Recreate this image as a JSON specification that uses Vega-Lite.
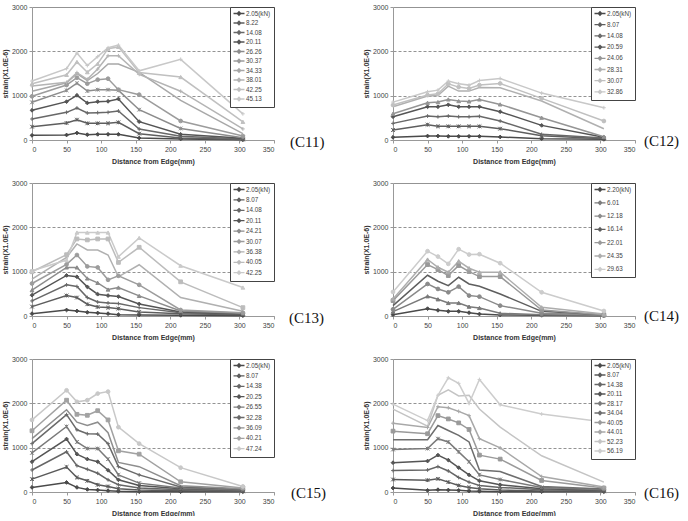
{
  "$schema": "https://vega.github.io/schema/vega-lite/v6.json",
  "background": "white",
  "padding": {"left": 1, "top": 3, "right": 0, "bottom": 0},
  "datasets": {
    "strain": [
      {"p": "C11", "load": "2.05(kN)", "x": [0,50,65,80,95,110,125,155,215,305], "y": [105,113,158,120,128,128,128,45,23,5]},
      {"p": "C11", "load": "8.22", "x": [0,50,65,80,95,110,125,155,215,305], "y": [300,383,458,376,376,376,398,143,45,10]},
      {"p": "C11", "load": "14.08", "x": [0,50,65,80,95,110,125,155,215,305], "y": [474,624,722,609,617,624,654,248,83,23]},
      {"p": "C11", "load": "20.11", "x": [0,50,65,80,95,110,125,155,215,305], "y": [669,865,1008,835,865,872,925,414,128,38]},
      {"p": "C11", "load": "26.26", "x": [0,50,65,80,95,110,125,155,215,305], "y": [850,1120,1280,1105,1135,1135,1120,684,260,53]},
      {"p": "C11", "load": "30.37", "x": [0,50,65,80,95,110,125,155,215,305], "y": [985,1240,1406,1271,1361,1383,1135,1023,429,90]},
      {"p": "C11", "load": "34.33", "x": [0,50,65,80,95,110,125,155,215,305], "y": [1098,1290,1496,1338,1500,1714,1714,1526,895,143]},
      {"p": "C11", "load": "38.01", "x": [0,50,65,80,95,110,125,155,215,305], "y": [1220,1300,1520,1370,1600,1900,1900,1480,1100,250]},
      {"p": "C11", "load": "42.25", "x": [0,50,65,80,95,110,125,155,215,305], "y": [1270,1470,1760,1530,1720,2060,2100,1520,1420,410]},
      {"p": "C11", "load": "45.13", "x": [0,50,65,80,95,110,125,155,215,305], "y": [1330,1610,1960,1680,1880,2080,2140,1560,1820,590]},

      {"p": "C12", "load": "2.05(kN)", "x": [0,50,65,80,95,110,125,155,215,305], "y": [60,90,90,83,83,83,83,68,30,15]},
      {"p": "C12", "load": "8.07", "x": [0,50,65,80,95,110,125,155,215,305], "y": [225,345,308,308,308,308,308,255,98,30]},
      {"p": "C12", "load": "14.08", "x": [0,50,65,80,95,110,125,155,215,305], "y": [375,540,525,540,525,525,533,428,128,45]},
      {"p": "C12", "load": "20.59", "x": [0,50,65,80,95,110,125,155,215,305], "y": [525,750,750,795,750,750,750,638,330,60]},
      {"p": "C12", "load": "24.06", "x": [0,50,65,80,95,110,125,155,215,305], "y": [593,840,855,915,878,870,915,803,503,75]},
      {"p": "C12", "load": "28.31", "x": [0,50,65,80,95,110,125,155,215,305], "y": [750,990,1005,1215,1103,1103,1185,1178,878,255]},
      {"p": "C12", "load": "30.07", "x": [0,50,65,80,95,110,125,155,215,305], "y": [788,1013,1043,1268,1193,1163,1238,1275,938,428]},
      {"p": "C12", "load": "32.86", "x": [0,50,65,80,95,110,125,155,215,305], "y": [855,1088,1125,1328,1268,1238,1343,1388,1058,728]},

      {"p": "C13", "load": "2.05(kN)", "x": [0,50,65,80,95,110,125,155,215,305], "y": [53,136,113,83,68,53,30,23,15,8]},
      {"p": "C13", "load": "8.07", "x": [0,50,65,80,95,110,125,155,215,305], "y": [212,461,416,265,204,189,166,91,53,30]},
      {"p": "C13", "load": "14.08", "x": [0,50,65,80,95,110,125,155,215,305], "y": [340,703,665,416,317,295,280,189,76,45]},
      {"p": "C13", "load": "20.11", "x": [0,50,65,80,95,110,125,155,215,305], "y": [469,915,884,658,491,461,438,272,91,53]},
      {"p": "C13", "load": "24.21", "x": [0,50,65,80,95,110,125,155,215,305], "y": [582,1096,1096,847,748,597,642,453,113,60]},
      {"p": "C13", "load": "30.07", "x": [0,50,65,80,95,110,125,155,215,305], "y": [733,1164,1376,1119,1096,816,907,703,136,76]},
      {"p": "C13", "load": "36.38", "x": [0,50,65,80,95,110,125,155,215,305], "y": [831,1323,1625,1489,1489,1376,884,1156,416,106]},
      {"p": "C13", "load": "40.05", "x": [0,50,65,80,95,110,125,155,215,305], "y": [998,1383,1738,1716,1738,1738,1209,1550,771,189]},
      {"p": "C13", "load": "42.25", "x": [0,50,65,80,95,110,125,155,215,305], "y": [1020,1262,1882,1882,1882,1882,1338,1761,1134,642]},

      {"p": "C14", "load": "2.20(kN)", "x": [0,50,65,80,95,110,125,155,215,305], "y": [30,166,128,105,105,75,45,23,15,8]},
      {"p": "C14", "load": "6.01", "x": [0,50,65,80,95,110,125,155,215,305], "y": [98,445,377,294,294,211,181,60,30,15]},
      {"p": "C14", "load": "12.18", "x": [0,50,65,80,95,110,125,155,215,305], "y": [151,723,610,535,663,460,437,234,60,23]},
      {"p": "C14", "load": "16.14", "x": [0,50,65,80,95,110,125,155,215,305], "y": [234,919,784,686,874,723,671,497,105,30]},
      {"p": "C14", "load": "22.01", "x": [0,50,65,80,95,110,125,155,215,305], "y": [347,1160,1047,912,1138,1002,889,889,136,30]},
      {"p": "C14", "load": "24.35", "x": [0,50,65,80,95,110,125,155,215,305], "y": [384,1274,1100,987,1236,1078,987,987,196,45]},
      {"p": "C14", "load": "29.63", "x": [0,50,65,80,95,110,125,155,215,305], "y": [543,1462,1341,1176,1507,1387,1394,1191,535,113]},

      {"p": "C15", "load": "2.05(kN)", "x": [0,50,65,80,95,110,125,155,215,305], "y": [104,215,104,59,45,30,15,7,7,7]},
      {"p": "C15", "load": "8.07", "x": [0,50,65,80,95,110,125,155,215,305], "y": [290,564,327,252,163,126,74,45,30,15]},
      {"p": "C15", "load": "14.38", "x": [0,50,65,80,95,110,125,155,215,305], "y": [497,906,594,512,423,275,163,89,52,30]},
      {"p": "C15", "load": "20.25", "x": [0,50,65,80,95,110,125,155,215,305], "y": [683,1195,854,742,683,490,275,148,74,37]},
      {"p": "C15", "load": "26.55", "x": [0,50,65,80,95,110,125,155,215,305], "y": [883,1477,1128,980,980,742,386,200,89,45]},
      {"p": "C15", "load": "32.28", "x": [0,50,65,80,95,110,125,155,215,305], "y": [1091,1745,1403,1314,1307,1091,572,386,111,59]},
      {"p": "C15", "load": "36.09", "x": [0,50,65,80,95,110,125,155,215,305], "y": [1203,1856,1574,1500,1574,1336,668,572,141,74]},
      {"p": "C15", "load": "40.21", "x": [0,50,65,80,95,110,125,155,215,305], "y": [1381,2071,1752,1730,1834,1626,928,854,230,89]},
      {"p": "C15", "load": "47.24", "x": [0,50,65,80,95,110,125,155,215,305], "y": [1626,2294,2034,2071,2220,2264,1462,1091,549,126]},

      {"p": "C16", "load": "2.05(kN)", "x": [0,50,65,80,95,110,125,155,215,305], "y": [89,37,52,45,37,22,15,7,7,7]},
      {"p": "C16", "load": "8.07", "x": [0,50,65,80,95,110,125,155,215,305], "y": [282,267,297,223,148,104,74,45,22,15]},
      {"p": "C16", "load": "14.38", "x": [0,50,65,80,95,110,125,155,215,305], "y": [483,497,572,475,327,223,148,104,52,30]},
      {"p": "C16", "load": "20.11", "x": [0,50,65,80,95,110,125,155,215,305], "y": [661,698,832,720,549,386,252,163,74,37]},
      {"p": "C16", "load": "28.17", "x": [0,50,65,80,95,110,125,155,215,305], "y": [958,980,1203,1128,906,683,386,282,104,52]},
      {"p": "C16", "load": "34.04", "x": [0,50,65,80,95,110,125,155,215,305], "y": [1180,1180,1500,1388,1277,1128,497,460,126,67]},
      {"p": "C16", "load": "40.05", "x": [0,50,65,80,95,110,125,155,215,305], "y": [1373,1314,1722,1648,1559,1410,832,742,260,89]},
      {"p": "C16", "load": "44.01", "x": [0,50,65,80,95,110,125,155,215,305], "y": [1552,1455,1923,1900,1819,1722,1203,995,349,111]},
      {"p": "C16", "load": "52.23", "x": [0,50,65,80,95,110,125,155,215,305], "y": [1871,1485,2183,2302,2168,2183,1871,1462,817,223]},
      {"p": "C16", "load": "56.19", "x": [0,50,65,80,95,110,125,155,215,305], "y": [1982,1611,2183,2576,2450,1997,2539,1967,1759,1580]}
    ]
  },
  "columns": 2,
  "spacing": {"row": 43, "column": 119},
  "bounds": "flush",
  "concat": [
    {
      "width": 242, "height": 133,
      "data": {"name": "strain"},
      "encoding": {
        "x": {"field": "x", "type": "quantitative", "scale": {"domain": [0, 350]}, "axis": {"values": [0,50,100,150,200,250,300,350], "title": "Distance from Edge(mm)"}},
        "y": {"field": "y", "type": "quantitative", "scale": {"domain": [0, 3000]}, "axis": {"values": [0,1000,2000,3000], "format": "d", "title": "strain(X1.0E-6)", "grid": true, "gridDash": {"condition": {"test": "datum.value == 3000", "value": []}, "value": [3, 2]}}}
      },
      "layer": [
        {"transform": [{"filter": "datum.p == 'C11'"}, {"flatten": ["x", "y"]}],
         "mark": {"type": "line", "strokeWidth": 1.5},
         "encoding": {"color": {"field": "load", "type": "nominal",
           "scale": {"domain": ["2.05(kN)","8.22","14.08","20.11","26.26","30.37","34.33","38.01","42.25","45.13"], "range": ["#4a4a4a","#5e5e5e","#686868","#555555","#8c8c8c","#9c9c9c","#a8a8a8","#b4b4b4","#c0c0c0","#c8c8c8"]},
           "legend": {"rowPadding": 0.5}}}},
        {"transform": [{"filter": "datum.p == 'C11'"}, {"flatten": ["x", "y"]}],
         "mark": {"type": "point", "filled": true, "size": 14, "strokeWidth": 1, "opacity": 1},
         "encoding": {
           "fill": {"field": "load", "type": "nominal", "legend": null, "scale": {"domain": ["2.05(kN)","8.22","14.08","20.11","26.26","30.37","34.33","38.01","42.25","45.13","~"], "range": ["#4a4a4a","#5e5e5e","#686868","#555555","#8c8c8c","#9c9c9c","#a8a8a8","#b4b4b4","#c0c0c0","#c8c8c8","#000000"]}},
           "stroke": {"field": "load", "type": "nominal", "legend": null, "scale": {"domain": ["2.05(kN)","8.22","14.08","20.11","26.26","30.37","34.33","38.01","42.25","45.13","~"], "range": ["#4a4a4a","#5e5e5e","#686868","#555555","#8c8c8c","#9c9c9c","#a8a8a8","#b4b4b4","#c0c0c0","#c8c8c8","#000000"]}},
           "shape": {"field": "load", "type": "nominal", "legend": null, "scale": {"domain": ["2.05(kN)","8.22","14.08","20.11","26.26","30.37","34.33","38.01","42.25","45.13","~"], "range": ["diamond","M-1,-1L1,1M-1,1L1,-1M0,-1V1","M-1,0H1M0,-1V1","diamond","M-1,-1L1,1M-1,1L1,-1M0,-1V1","circle","M0,0","M-1,0H1M0,-1V1","triangle-up","M-1,0H1M0,-1V1","circle"]}}
         }},
        {"data": {"values": [{"x": 350, "y": 0}]}, "mark": {"type": "text", "align": "left", "baseline": "middle", "dx": 16, "dy": 2, "font": "Liberation Serif", "fontSize": 15, "color": "#111"},
         "encoding": {"text": {"value": "(C11)"}}}
      ]
    },
    {
      "width": 242, "height": 133,
      "data": {"name": "strain"},
      "encoding": {
        "x": {"field": "x", "type": "quantitative", "scale": {"domain": [0, 350]}, "axis": {"values": [0,50,100,150,200,250,300,350], "title": "Distance from Edge(mm)"}},
        "y": {"field": "y", "type": "quantitative", "scale": {"domain": [0, 3000]}, "axis": {"values": [0,1000,2000,3000], "format": "d", "title": "strain(X1.0E-6)", "grid": true, "gridDash": {"condition": {"test": "datum.value == 3000", "value": []}, "value": [3, 2]}}}
      },
      "layer": [
        {"transform": [{"filter": "datum.p == 'C12'"}, {"flatten": ["x", "y"]}],
         "mark": {"type": "line", "strokeWidth": 1.5},
         "encoding": {"color": {"field": "load", "type": "nominal",
           "scale": {"domain": ["2.05(kN)","8.07","14.08","20.59","24.06","28.31","30.07","32.86"], "range": ["#4a4a4a","#5e5e5e","#686868","#555555","#959595","#b0b0b0","#c0c0c0","#c8c8c8"]},
           "legend": {"rowPadding": 2.2}}}},
        {"transform": [{"filter": "datum.p == 'C12'"}, {"flatten": ["x", "y"]}],
         "mark": {"type": "point", "filled": true, "size": 14, "strokeWidth": 1, "opacity": 1},
         "encoding": {
           "fill": {"field": "load", "type": "nominal", "legend": null, "scale": {"domain": ["2.05(kN)","8.07","14.08","20.59","24.06","28.31","30.07","32.86","~"], "range": ["#4a4a4a","#5e5e5e","#686868","#555555","#959595","#b0b0b0","#c0c0c0","#c8c8c8","#000000"]}},
           "stroke": {"field": "load", "type": "nominal", "legend": null, "scale": {"domain": ["2.05(kN)","8.07","14.08","20.59","24.06","28.31","30.07","32.86","~"], "range": ["#4a4a4a","#5e5e5e","#686868","#555555","#959595","#b0b0b0","#c0c0c0","#c8c8c8","#000000"]}},
           "shape": {"field": "load", "type": "nominal", "legend": null, "scale": {"domain": ["2.05(kN)","8.07","14.08","20.59","24.06","28.31","30.07","32.86","~"], "range": ["diamond","M-1,-1L1,1M-1,1L1,-1M0,-1V1","M-1,0H1M0,-1V1","diamond","triangle-up","M0,0","circle","M-1,0H1M0,-1V1","circle"]}}
         }},
        {"data": {"values": [{"x": 350, "y": 0}]}, "mark": {"type": "text", "align": "left", "baseline": "middle", "dx": 9, "dy": 1, "font": "Liberation Serif", "fontSize": 15, "color": "#111"},
         "encoding": {"text": {"value": "(C12)"}}}
      ]
    },
    {
      "width": 242, "height": 133,
      "data": {"name": "strain"},
      "encoding": {
        "x": {"field": "x", "type": "quantitative", "scale": {"domain": [0, 350]}, "axis": {"values": [0,50,100,150,200,250,300,350], "title": "Distance from Edge(mm)"}},
        "y": {"field": "y", "type": "quantitative", "scale": {"domain": [0, 3000]}, "axis": {"values": [0,1000,2000,3000], "format": "d", "title": "strain(X1.0E-6)", "grid": true, "gridDash": {"condition": {"test": "datum.value == 3000", "value": []}, "value": [3, 2]}}}
      },
      "layer": [
        {"transform": [{"filter": "datum.p == 'C13'"}, {"flatten": ["x", "y"]}],
         "mark": {"type": "line", "strokeWidth": 1.5},
         "encoding": {"color": {"field": "load", "type": "nominal",
           "scale": {"domain": ["2.05(kN)","8.07","14.08","20.11","24.21","30.07","36.38","40.05","42.25"], "range": ["#4a4a4a","#5e5e5e","#686868","#555555","#8c8c8c","#9c9c9c","#b0b0b0","#bcbcbc","#cacaca"]},
           "legend": {"rowPadding": 1.4}}}},
        {"transform": [{"filter": "datum.p == 'C13'"}, {"flatten": ["x", "y"]}],
         "mark": {"type": "point", "filled": true, "size": 14, "strokeWidth": 1, "opacity": 1},
         "encoding": {
           "fill": {"field": "load", "type": "nominal", "legend": null, "scale": {"domain": ["2.05(kN)","8.07","14.08","20.11","24.21","30.07","36.38","40.05","42.25","~"], "range": ["#4a4a4a","#5e5e5e","#686868","#555555","#8c8c8c","#9c9c9c","#b0b0b0","#bcbcbc","#cacaca","#000000"]}},
           "stroke": {"field": "load", "type": "nominal", "legend": null, "scale": {"domain": ["2.05(kN)","8.07","14.08","20.11","24.21","30.07","36.38","40.05","42.25","~"], "range": ["#4a4a4a","#5e5e5e","#686868","#555555","#8c8c8c","#9c9c9c","#b0b0b0","#bcbcbc","#cacaca","#000000"]}},
           "shape": {"field": "load", "type": "nominal", "legend": null, "scale": {"domain": ["2.05(kN)","8.07","14.08","20.11","24.21","30.07","36.38","40.05","42.25","~"], "range": ["diamond","M-1,-1L1,1M-1,1L1,-1M0,-1V1","M-1,0H1M0,-1V1","diamond","triangle-up","circle","M0,0","square","triangle-up","circle"]}}
         }},
        {"data": {"values": [{"x": 350, "y": 0}]}, "mark": {"type": "text", "align": "left", "baseline": "middle", "dx": 15, "dy": 2, "font": "Liberation Serif", "fontSize": 15, "color": "#111"},
         "encoding": {"text": {"value": "(C13)"}}}
      ]
    },
    {
      "width": 242, "height": 133,
      "data": {"name": "strain"},
      "encoding": {
        "x": {"field": "x", "type": "quantitative", "scale": {"domain": [0, 350]}, "axis": {"values": [0,50,100,150,200,250,300,350], "title": "Distance from Edge(mm)"}},
        "y": {"field": "y", "type": "quantitative", "scale": {"domain": [0, 3000]}, "axis": {"values": [0,1000,2000,3000], "format": "d", "title": "strain(X1.0E-6)", "grid": true, "gridDash": {"condition": {"test": "datum.value == 3000", "value": []}, "value": [3, 2]}}}
      },
      "layer": [
        {"transform": [{"filter": "datum.p == 'C14'"}, {"flatten": ["x", "y"]}],
         "mark": {"type": "line", "strokeWidth": 1.5},
         "encoding": {"color": {"field": "load", "type": "nominal",
           "scale": {"domain": ["2.20(kN)","6.01","12.18","16.14","22.01","24.35","29.63"], "range": ["#4a4a4a","#7a7a7a","#8a8a8a","#5e5e5e","#999999","#adadad","#cccccc"]},
           "legend": {"rowPadding": 4.3}}}},
        {"transform": [{"filter": "datum.p == 'C14'"}, {"flatten": ["x", "y"]}],
         "mark": {"type": "point", "filled": true, "size": 14, "strokeWidth": 1, "opacity": 1},
         "encoding": {
           "fill": {"field": "load", "type": "nominal", "legend": null, "scale": {"domain": ["2.20(kN)","6.01","12.18","16.14","22.01","24.35","29.63","~"], "range": ["#4a4a4a","#7a7a7a","#8a8a8a","#5e5e5e","#999999","#adadad","#cccccc","#000000"]}},
           "stroke": {"field": "load", "type": "nominal", "legend": null, "scale": {"domain": ["2.20(kN)","6.01","12.18","16.14","22.01","24.35","29.63","~"], "range": ["#4a4a4a","#7a7a7a","#8a8a8a","#5e5e5e","#999999","#adadad","#cccccc","#000000"]}},
           "shape": {"field": "load", "type": "nominal", "legend": null, "scale": {"domain": ["2.20(kN)","6.01","12.18","16.14","22.01","24.35","29.63","~"], "range": ["diamond","triangle-up","circle","M0,0","square","triangle-up","circle","circle"]}}
         }},
        {"data": {"values": [{"x": 350, "y": 0}]}, "mark": {"type": "text", "align": "left", "baseline": "middle", "dx": 9, "dy": 0, "font": "Liberation Serif", "fontSize": 15, "color": "#111"},
         "encoding": {"text": {"value": "(C14)"}}}
      ]
    },
    {
      "width": 242, "height": 133,
      "data": {"name": "strain"},
      "encoding": {
        "x": {"field": "x", "type": "quantitative", "scale": {"domain": [0, 350]}, "axis": {"values": [0,50,100,150,200,250,300,350], "title": "Distance from Edge(mm)"}},
        "y": {"field": "y", "type": "quantitative", "scale": {"domain": [0, 3000]}, "axis": {"values": [0,1000,2000,3000], "format": "d", "title": "strain(X1.0E-6)", "grid": true, "gridDash": {"condition": {"test": "datum.value == 3000", "value": []}, "value": [3, 2]}}}
      },
      "layer": [
        {"transform": [{"filter": "datum.p == 'C15'"}, {"flatten": ["x", "y"]}],
         "mark": {"type": "line", "strokeWidth": 1.5},
         "encoding": {"color": {"field": "load", "type": "nominal",
           "scale": {"domain": ["2.05(kN)","8.07","14.38","20.25","26.55","32.28","36.09","40.21","47.24"], "range": ["#4a4a4a","#5a5a5a","#666666","#555555","#7a7a7a","#6a6a6a","#8e8e8e","#a2a2a2","#c8c8c8"]},
           "legend": {"rowPadding": 1.4}}}},
        {"transform": [{"filter": "datum.p == 'C15'"}, {"flatten": ["x", "y"]}],
         "mark": {"type": "point", "filled": true, "size": 14, "strokeWidth": 1, "opacity": 1},
         "encoding": {
           "fill": {"field": "load", "type": "nominal", "legend": null, "scale": {"domain": ["2.05(kN)","8.07","14.38","20.25","26.55","32.28","36.09","40.21","47.24","~"], "range": ["#4a4a4a","#5a5a5a","#666666","#555555","#7a7a7a","#6a6a6a","#8e8e8e","#a2a2a2","#c8c8c8","#000000"]}},
           "stroke": {"field": "load", "type": "nominal", "legend": null, "scale": {"domain": ["2.05(kN)","8.07","14.38","20.25","26.55","32.28","36.09","40.21","47.24","~"], "range": ["#4a4a4a","#5a5a5a","#666666","#555555","#7a7a7a","#6a6a6a","#8e8e8e","#a2a2a2","#c8c8c8","#000000"]}},
           "shape": {"field": "load", "type": "nominal", "legend": null, "scale": {"domain": ["2.05(kN)","8.07","14.38","20.25","26.55","32.28","36.09","40.21","47.24","~"], "range": ["diamond","M-1,-1L1,1M-1,1L1,-1M0,-1V1","M-1,0H1M0,-1V1","diamond","M-1,-1L1,1M-1,1L1,-1M0,-1V1","M-1,0H1M0,-1V1","M0,0","square","circle","circle"]}}
         }},
        {"data": {"values": [{"x": 350, "y": 0}]}, "mark": {"type": "text", "align": "left", "baseline": "middle", "dx": 17, "dy": 1, "font": "Liberation Serif", "fontSize": 15, "color": "#111"},
         "encoding": {"text": {"value": "(C15)"}}}
      ]
    },
    {
      "width": 242, "height": 133,
      "data": {"name": "strain"},
      "encoding": {
        "x": {"field": "x", "type": "quantitative", "scale": {"domain": [0, 350]}, "axis": {"values": [0,50,100,150,200,250,300,350], "title": "Distance from Edge(mm)"}},
        "y": {"field": "y", "type": "quantitative", "scale": {"domain": [0, 3000]}, "axis": {"values": [0,1000,2000,3000], "format": "d", "title": "strain(X1.0E-6)", "grid": true, "gridDash": {"condition": {"test": "datum.value == 3000", "value": []}, "value": [3, 2]}}}
      },
      "layer": [
        {"transform": [{"filter": "datum.p == 'C16'"}, {"flatten": ["x", "y"]}],
         "mark": {"type": "line", "strokeWidth": 1.5},
         "encoding": {"color": {"field": "load", "type": "nominal",
           "scale": {"domain": ["2.05(kN)","8.07","14.38","20.11","28.17","34.04","40.05","44.01","52.23","56.19"], "range": ["#4a4a4a","#5a5a5a","#666666","#555555","#7a7a7a","#6e6e6e","#9a9a9a","#a8a8a8","#c4c4c4","#cdcdcd"]},
           "legend": {"rowPadding": 0.5}}}},
        {"transform": [{"filter": "datum.p == 'C16'"}, {"flatten": ["x", "y"]}],
         "mark": {"type": "point", "filled": true, "size": 14, "strokeWidth": 1, "opacity": 1},
         "encoding": {
           "fill": {"field": "load", "type": "nominal", "legend": null, "scale": {"domain": ["2.05(kN)","8.07","14.38","20.11","28.17","34.04","40.05","44.01","52.23","56.19","~"], "range": ["#4a4a4a","#5a5a5a","#666666","#555555","#7a7a7a","#6e6e6e","#9a9a9a","#a8a8a8","#c4c4c4","#cdcdcd","#000000"]}},
           "stroke": {"field": "load", "type": "nominal", "legend": null, "scale": {"domain": ["2.05(kN)","8.07","14.38","20.11","28.17","34.04","40.05","44.01","52.23","56.19","~"], "range": ["#4a4a4a","#5a5a5a","#666666","#555555","#7a7a7a","#6e6e6e","#9a9a9a","#a8a8a8","#c4c4c4","#cdcdcd","#000000"]}},
           "shape": {"field": "load", "type": "nominal", "legend": null, "scale": {"domain": ["2.05(kN)","8.07","14.38","20.11","28.17","34.04","40.05","44.01","52.23","56.19","~"], "range": ["diamond","M-1,-1L1,1M-1,1L1,-1M0,-1V1","M-1,0H1M0,-1V1","diamond","M-1,-1L1,1M-1,1L1,-1M0,-1V1","M0,0","square","M-1,0H1M0,-1V1","M0,0","M-1,0H1M0,-1V1","circle"]}}
         }},
        {"data": {"values": [{"x": 350, "y": 0}]}, "mark": {"type": "text", "align": "left", "baseline": "middle", "dx": 9, "dy": 1, "font": "Liberation Serif", "fontSize": 15, "color": "#111"},
         "encoding": {"text": {"value": "(C16)"}}}
      ]
    }
  ],
  "resolve": {
    "scale": {"color": "independent", "fill": "independent", "stroke": "independent", "shape": "independent", "x": "independent", "y": "independent"},
    "legend": {"color": "independent"}
  },
  "config": {
    "view": {"stroke": null},
    "font": "Liberation Sans",
    "axis": {
      "labelFont": "Liberation Sans", "labelFontSize": 7, "labelColor": "#444",
      "titleFont": "Liberation Sans", "titleFontSize": 7, "titleFontWeight": "bold", "titleColor": "#333",
      "domainColor": "#999", "tickColor": "#999", "tickSize": 3, "labelPadding": 2, "titlePadding": 3,
      "gridColor": "#777", "gridWidth": 0.8
    },
    "axisX": {"grid": false, "titlePadding": 5},
    "legend": {
      "orient": "top-right", "offset": 0, "title": null,
      "fillColor": "white", "strokeColor": "#444", "padding": 3,
      "labelFont": "Liberation Sans", "labelFontSize": 6.3, "labelColor": "#444", "labelOffset": 6,
      "symbolType": "M-1.2,0H3.2M1,-0.7L1.7,0L1,0.7L0.3,0Z", "symbolSize": 25, "symbolStrokeWidth": 1.3, "symbolFillColor": "transparent"
    }
  }
}
